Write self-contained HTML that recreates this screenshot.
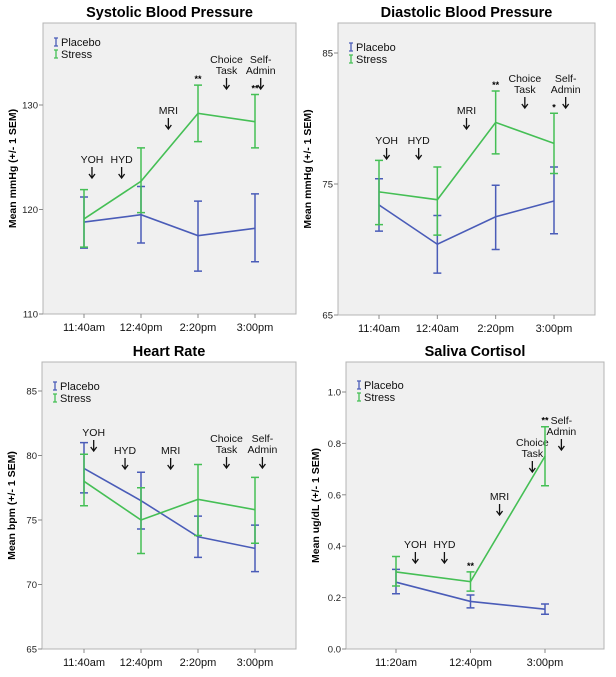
<!DOCTYPE html>
<html><head><meta charset="utf-8"><style>
body{margin:0;background:#fff;width:616px;height:672px;overflow:hidden;font-family:"Liberation Sans",sans-serif}
svg text{font-family:"Liberation Sans",sans-serif}
</style></head><body>
<svg id="c" width="616" height="672" viewBox="0 0 616 672" xmlns="http://www.w3.org/2000/svg"></svg>
<script>
// ---- data ----
const sbpCats = ["11:40am","12:40pm","2:20pm","3:00pm"];
const sbpPlacebo = [118.8,119.5,117.5,118.2];
const sbpPlaceboLo = [116.3,116.8,114.1,115.0];
const sbpPlaceboHi = [121.2,122.2,120.8,121.5];
const sbpStress = [119.1,122.7,129.2,128.4];
const sbpStressLo = [116.4,119.7,126.5,125.9];
const sbpStressHi = [121.9,125.9,131.9,131.0];
const sbpTicks = [110,120,130];

const dbpCats = ["11:40am","12:40am","2:20pm","3:00pm"];
const dbpPlacebo = [73.4,70.4,72.5,73.7];
const dbpPlaceboLo = [71.4,68.2,70.0,71.2];
const dbpPlaceboHi = [75.4,72.6,74.9,76.3];
const dbpStress = [74.4,73.8,79.7,78.1];
const dbpStressLo = [71.9,71.1,77.3,75.8];
const dbpStressHi = [76.8,76.3,82.1,80.4];
const dbpTicks = [65,75,85];

const hrCats = ["11:40am","12:40pm","2:20pm","3:00pm"];
const hrPlacebo = [79.0,76.5,73.7,72.8];
const hrPlaceboLo = [77.1,74.3,72.1,71.0];
const hrPlaceboHi = [81.0,78.7,75.3,74.6];
const hrStress = [78.0,75.0,76.6,75.8];
const hrStressLo = [76.1,72.4,73.8,73.2];
const hrStressHi = [80.1,77.5,79.3,78.3];
const hrTicks = [65,70,75,80,85];

const corCats = ["11:20am","12:40pm","3:00pm"];
const corPlacebo = [0.26,0.185,0.155];
const corPlaceboLo = [0.215,0.16,0.135];
const corPlaceboHi = [0.31,0.21,0.175];
const corStress = [0.30,0.262,0.75];
const corStressLo = [0.245,0.225,0.635];
const corStressHi = [0.36,0.30,0.865];
const corTicks = [0.0,0.2,0.4,0.6,0.8,1.0];

const BLUE="#4a5cb8", GREEN="#45bf55";
const svg=document.getElementById('c');
const NS="http://www.w3.org/2000/svg";
function mk(tag,attrs,parent,txt){const e=document.createElementNS(NS,tag);for(const k in attrs)e.setAttribute(k,attrs[k]);if(txt!==undefined)e.textContent=txt;(parent||svg).appendChild(e);return e;}

function panel(o){
  const g=mk('g',{});
  
  
  const r=mk('rect',{x:o.L,y:o.T,width:o.R-o.L,height:o.B-o.T,fill:'#f0f0f0',stroke:'#b4b4b4','stroke-width':1},g);
  
  
  const ys=v=>o.y0px+(v-o.v0)*(o.y1px-o.y0px)/(o.v1-o.v0);
  const xs=i=>o.x0+i*(o.x1-o.x0)/(o.cats.length-1);
  const t=mk('text',{x:(o.L+o.R)/2,y:o.T-6,'text-anchor':'middle','font-size':14.5,'font-weight':'bold'},g,o.title);
  
  
  const yt=mk('text',{x:0,y:0,transform:`translate(${o.L-27},${(o.T+o.B)/2}) rotate(-90)`,'text-anchor':'middle','font-size':10.5,'font-weight':'bold'},g,o.ytitle);
  
  
  o.ticks.forEach(v=>{
    const y=ys(v);
    mk('line',{x1:o.L-4,x2:o.L,y1:y,y2:y,stroke:'#888'},g);
    const tl=mk('text',{x:o.L-5,y:y+3.5,'text-anchor':'end','font-size':9.5,fill:'#222'},g,o.fmt?o.fmt(v):String(v));
    
    
  });
  o.cats.forEach((c,i)=>{
    const x=xs(i);
    mk('line',{x1:x,x2:x,y1:o.B,y2:o.B+4,stroke:'#888'},g);
    const xl=mk('text',{x:x,y:o.B+17,'text-anchor':'middle','font-size':11,fill:'#111'},g,c);
    
    
  });
  o.ann.forEach(a=>{
    const x=xs(a.i);
    a.lines.forEach((l,k)=>{
      const at=mk('text',{x:x,y:a.y+k*11,'text-anchor':'middle','font-size':10.5,fill:'#111'},g,l);
      
      
    });
    const ay=a.y+(a.lines.length-1)*11+4;
    mk('path',{d:`M${x} ${ay} V${ay+11} M${x-3} ${ay+7} L${x} ${ay+11} L${x+3} ${ay+7}`,stroke:'#111','stroke-width':1.3,fill:'none'},g);
  });
  function series(vals,lo,hi,col,nm){
    const pts=vals.map((v,i)=>xs(i)+','+ys(v)).join(' ');
    const pl=mk('polyline',{points:pts,fill:'none',stroke:col,'stroke-width':1.6},g);
    
    
    vals.forEach((v,i)=>{
      const x=xs(i);
      const eb=mk('path',{d:`M${x} ${ys(lo[i])} V${ys(hi[i])} M${x-4} ${ys(lo[i])} H${x+4} M${x-4} ${ys(hi[i])} H${x+4}`,stroke:col,'stroke-width':1.5,fill:'none'},g);
      
      
    });
  }
  series(o.p,o.pl,o.ph,BLUE,'placebo');
  series(o.s,o.sl,o.sh,GREEN,'stress');
  o.stars.forEach(s=>{
    mk('text',{x:xs(s.i),y:ys(o.sh[s.i])-3,'text-anchor':'middle','font-size':9,'font-weight':'bold'},g,s.t);
  });
  const lx=o.L+13, ly=o.T+o.legDy;
  [['Placebo',BLUE],['Stress',GREEN]].forEach((e,k)=>{
    const y=ly+k*12;
    const lg=mk('g',{},g);
    
    
    mk('path',{d:`M${lx} ${y-4} V${y+4} M${lx-2} ${y-4} H${lx+2} M${lx-2} ${y+4} H${lx+2}`,stroke:e[1],'stroke-width':1.3},lg);
    mk('text',{x:lx+5,y:y+4,'font-size':11,fill:'#111'},lg,e[0]);
  });
}

panel({name:'systolic',title:'Systolic Blood Pressure',ytitle:'Mean mmHg (+/- 1 SEM)',L:43,R:296,T:23,B:314,
  v0:110,v1:130,y0px:314,y1px:105,x0:84,x1:255,cats:sbpCats,ticks:sbpTicks,
  p:sbpPlacebo,pl:sbpPlaceboLo,ph:sbpPlaceboHi,s:sbpStress,sl:sbpStressLo,sh:sbpStressHi,legDy:19,
  stars:[{i:2,t:'**'},{i:3,t:'**'}],
  ann:[{i:0.14,y:163,lines:['YOH']},{i:0.66,y:163,lines:['HYD']},{i:1.48,y:114,lines:['MRI']},{i:2.5,y:63,lines:['Choice','Task']},{i:3.1,y:63,lines:['Self-','Admin']}]});

panel({name:'diastolic',title:'Diastolic Blood Pressure',ytitle:'Mean mmHg (+/- 1 SEM)',L:338,R:595,T:23,B:315,
  v0:65,v1:85,y0px:315,y1px:53,x0:379,x1:554,cats:dbpCats,ticks:dbpTicks,
  p:dbpPlacebo,pl:dbpPlaceboLo,ph:dbpPlaceboHi,s:dbpStress,sl:dbpStressLo,sh:dbpStressHi,legDy:24,
  stars:[{i:2,t:'**'},{i:3,t:'*'}],
  ann:[{i:0.13,y:144,lines:['YOH']},{i:0.68,y:144,lines:['HYD']},{i:1.5,y:114,lines:['MRI']},{i:2.5,y:82,lines:['Choice','Task']},{i:3.2,y:82,lines:['Self-','Admin']}]});

panel({name:'heart-rate',title:'Heart Rate',ytitle:'Mean bpm (+/- 1 SEM)',L:42,R:296,T:362,B:649,
  v0:65,v1:85,y0px:649,y1px:391,x0:84,x1:255,cats:hrCats,ticks:hrTicks,
  p:hrPlacebo,pl:hrPlaceboLo,ph:hrPlaceboHi,s:hrStress,sl:hrStressLo,sh:hrStressHi,legDy:24,
  stars:[],
  ann:[{i:0.17,y:436,lines:['YOH']},{i:0.72,y:454,lines:['HYD']},{i:1.52,y:454,lines:['MRI']},{i:2.5,y:442,lines:['Choice','Task']},{i:3.13,y:442,lines:['Self-','Admin']}]});

panel({name:'cortisol',title:'Saliva Cortisol',ytitle:'Mean ug/dL (+/- 1 SEM)',L:346,R:604,T:362,B:649,
  v0:0,v1:1,y0px:649,y1px:392,x0:396,x1:545,cats:corCats,ticks:corTicks,fmt:v=>v.toFixed(1),
  p:corPlacebo,pl:corPlaceboLo,ph:corPlaceboHi,s:corStress,sl:corStressLo,sh:corStressHi,legDy:23,
  stars:[{i:1,t:'**'},{i:2,t:'**'}],
  ann:[{i:0.26,y:548,lines:['YOH']},{i:0.65,y:548,lines:['HYD']},{i:1.39,y:500,lines:['MRI']},{i:1.83,y:446,lines:['Choice','Task']},{i:2.22,y:424,lines:['Self-','Admin']}]});
</script>
</body></html>
